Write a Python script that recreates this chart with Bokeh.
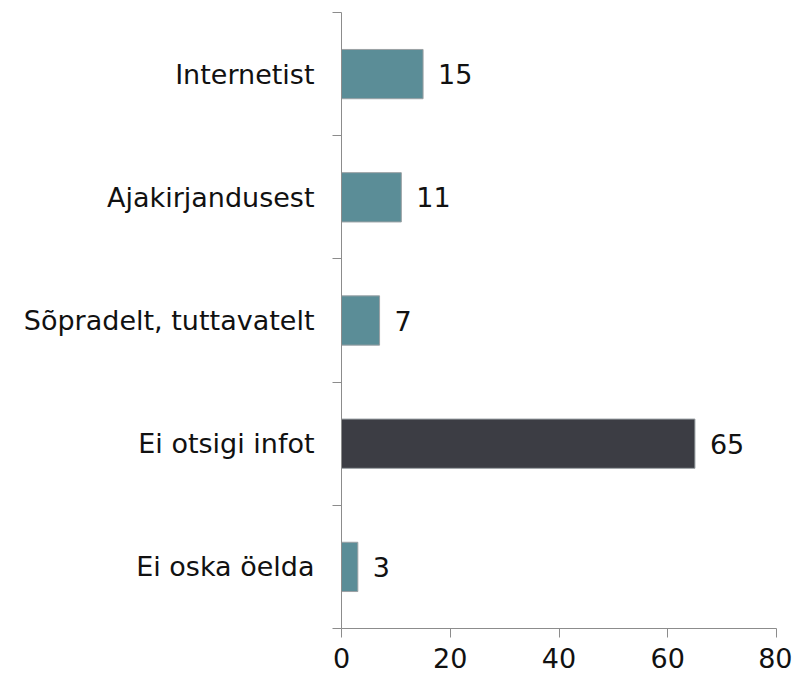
from bokeh.plotting import figure
from bokeh.models import FixedTicker, Range1d, ColumnDataSource
from bokeh.core.properties import value
from bokeh.embed import file_html
from bokeh.resources import INLINE

categories = ["Internetist", "Ajakirjandusest", "Sõpradelt, tuttavatelt", "Ei otsigi infot", "Ei oska öelda"]
values = [15, 11, 7, 65, 3]
colors = ["#5B8D97", "#5B8D97", "#5B8D97", "#3C3D44", "#5B8D97"]
x_ticks = [0, 20, 40, 60, 80]

n = len(categories)
ypos = [n - i - 0.5 for i in range(n)]

src = ColumnDataSource(dict(y=ypos, v=values, c=colors, lab=[str(v) for v in values]))

p = figure(width=792, height=677, output_backend="svg", toolbar_location=None,
           x_range=Range1d(0, 80), y_range=Range1d(0, n),
           min_border_left=341, min_border_right=16, min_border_top=12, min_border_bottom=49)
p.outline_line_color = None
p.grid.grid_line_color = None

p.hbar(y="y", right="v", left=0, height=0.4, fill_color="c", line_color="#9aa0a4", line_width=1, source=src)
p.text(x="v", y="y", text="lab", x_offset=15, text_baseline="middle", text_align="left",
       text_font=value("DejaVu Sans"), text_font_size="27px", text_color="#111111", source=src)

p.xaxis.ticker = FixedTicker(ticks=x_ticks)
p.xaxis.axis_line_color = "#8c8c8c"
p.xaxis.major_tick_line_color = "#8c8c8c"
p.xaxis.major_tick_out = 9
p.xaxis.major_tick_in = 0
p.xaxis.minor_tick_line_color = None
p.xaxis.major_label_text_font = "DejaVu Sans"
p.xaxis.major_label_text_font_size = "27px"
p.xaxis.major_label_text_color = "#111111"
p.xaxis.major_label_standoff = 10

p.yaxis.ticker = FixedTicker(ticks=ypos, minor_ticks=list(range(n + 1)))
p.yaxis.major_label_overrides = {y: c for y, c in zip(ypos, categories)}
p.yaxis.axis_line_color = "#8c8c8c"
p.yaxis.major_tick_line_color = None
p.yaxis.minor_tick_line_color = "#8c8c8c"
p.yaxis.minor_tick_out = 9
p.yaxis.minor_tick_in = 0
p.yaxis.major_label_text_font = "DejaVu Sans"
p.yaxis.major_label_text_font_size = "27px"
p.yaxis.major_label_text_color = "#111111"
p.yaxis.major_label_standoff = 18

open("out.html", "w").write(file_html(p, INLINE))
